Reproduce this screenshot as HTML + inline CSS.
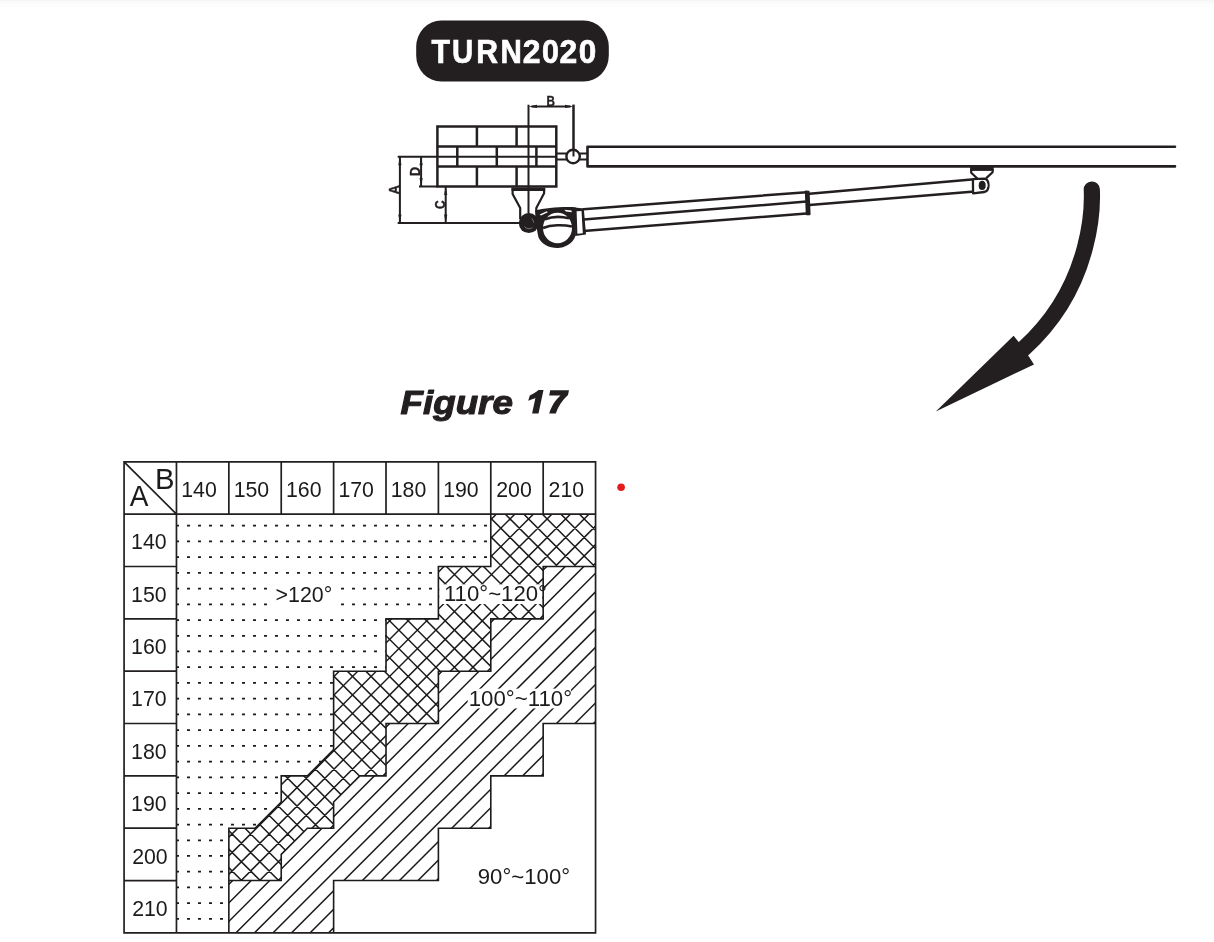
<!DOCTYPE html>
<html><head><meta charset="utf-8"><title>Figure 17</title>
<style>
html,body{margin:0;padding:0;background:#fff;}
body{width:1214px;height:942px;overflow:hidden;font-family:"Liberation Sans",sans-serif;}
svg{display:block;will-change:transform;}
</style></head><body>
<svg width="1214" height="942" viewBox="0 0 1214 942"><defs><clipPath id="cD"><path d="M176.46 514.14 L490.79 514.14 L490.79 566.49 L438.4 566.49 L438.4 618.83 L386.01 618.83 L386.01 671.18 L333.62 671.18 L333.62 749.69 L307.43 775.86 L281.23 775.86 L281.23 802.04 L255.04 828.21 L228.85 828.21 L228.85 932.9 L176.46 932.9 Z"/></clipPath><clipPath id="cX"><path d="M490.79 514.14 L490.79 566.49 L438.4 566.49 L438.4 618.83 L386.01 618.83 L386.01 671.18 L333.62 671.18 L333.62 749.69 L307.43 775.86 L281.23 775.86 L281.23 802.04 L255.04 828.21 L228.85 828.21 L228.85 880.55 L281.23 880.55 L281.23 854.38 L307.43 828.21 L333.62 828.21 L333.62 802.04 L359.82 775.86 L386.01 775.86 L386.01 723.52 L438.4 723.52 L438.4 671.18 L490.79 671.18 L490.79 618.83 L543.17 618.83 L543.17 566.49 L595.56 566.49 L595.56 514.14 Z"/></clipPath><clipPath id="cH"><path d="M595.56 566.49 L543.17 566.49 L543.17 618.83 L490.79 618.83 L490.79 671.18 L438.4 671.18 L438.4 723.52 L386.01 723.52 L386.01 775.86 L359.82 775.86 L333.62 802.04 L333.62 828.21 L307.43 828.21 L281.23 854.38 L281.23 880.55 L228.85 880.55 L228.85 932.9 L333.62 932.9 L333.62 880.55 L438.4 880.55 L438.4 828.21 L490.79 828.21 L490.79 775.86 L543.17 775.86 L543.17 723.52 L595.56 723.52 Z"/></clipPath><linearGradient id="topg" x1="0" y1="0" x2="0" y2="1"><stop offset="0" stop-color="#f4f4f4"/><stop offset="1" stop-color="#fff"/></linearGradient></defs><rect x="0" y="0" width="1214" height="1" fill="#f6f6f6"/><rect x="0" y="1" width="1214" height="1" fill="#f9f9f9"/><rect x="0" y="2" width="1214" height="1" fill="#fafafa"/><rect x="0" y="3" width="1214" height="1" fill="#fcfcfc"/><rect x="0" y="4" width="1214" height="1" fill="#fdfdfd"/><rect x="0" y="5" width="1214" height="1" fill="#fefefe"/><rect x="0" y="6" width="1214" height="1" fill="#fcfcfc"/><rect x="416.2" y="20.6" width="192.6" height="60.9" rx="25" ry="26" fill="#231f20"/><text transform="translate(431.5 62.78) scale(0.8928 1)" font-family="Liberation Sans" font-weight="bold" font-size="33.98" fill="#fff" stroke="#fff" stroke-width="0.7">T</text><text transform="translate(452.03 62.78) scale(0.8651 1)" font-family="Liberation Sans" font-weight="bold" font-size="33.98" fill="#fff" stroke="#fff" stroke-width="0.7">U</text><text transform="translate(476.27 62.78) scale(0.8867 1)" font-family="Liberation Sans" font-weight="bold" font-size="33.98" fill="#fff" stroke="#fff" stroke-width="0.7">R</text><text transform="translate(500.41 62.78) scale(0.8699 1)" font-family="Liberation Sans" font-weight="bold" font-size="33.98" fill="#fff" stroke="#fff" stroke-width="0.7">N</text><text transform="translate(522.81 62.78) scale(0.9377 1)" font-family="Liberation Sans" font-weight="bold" font-size="33.98" fill="#fff" stroke="#fff" stroke-width="0.7">2</text><text transform="translate(542.11 62.78) scale(0.8951 1)" font-family="Liberation Sans" font-weight="bold" font-size="33.98" fill="#fff" stroke="#fff" stroke-width="0.7">0</text><text transform="translate(559.41 62.78) scale(0.9377 1)" font-family="Liberation Sans" font-weight="bold" font-size="33.98" fill="#fff" stroke="#fff" stroke-width="0.7">2</text><text transform="translate(578.67 62.78) scale(0.9252 1)" font-family="Liberation Sans" font-weight="bold" font-size="33.98" fill="#fff" stroke="#fff" stroke-width="0.7">0</text><g fill="none" stroke="#231f20" stroke-width="2.5"><path d="M437.4 126.6H556.3V186.4H437.4Z"/><path d="M437.4 146.4H556.3M437.4 166.4H556.3M476.9 126.6V146.4M516.6 126.6V146.4M476.9 166.4V186.4M516.6 166.4V186.4M457.3 146.4V166.4M496.8 146.4V166.4M536.4 146.4V166.4"/></g><g fill="none" stroke="#231f20" stroke-width="2"><path d="M397.7 156.8H556.3M419 186.4H437.4M397.7 223.1H520"/><path d="M399.9 157V223M421.1 157V186M445.7 187V223M528.5 104.7V214M573.5 104.7V156.5M531.5 106.4H570.5"/></g><path d="M399.9 156.8L401.5 165.3L398.3 165.3ZM399.9 223.1L398.3 214.6L401.5 214.6ZM421.1 156.8L422.7 165.3L419.5 165.3ZM421.1 186.4L419.5 177.9L422.7 177.9ZM445.7 186.4L447.3 194.9L444.1 194.9ZM445.7 223.1L444.1 214.6L447.3 214.6ZM528.5 106.4L537 104.8L537 108ZM573.5 106.4L565 108L565 104.8Z" fill="#231f20"/><g font-family="Liberation Sans" font-weight="bold" font-size="14.5" fill="#231f20" stroke="#231f20" stroke-width="0.4"><text x="546.6" y="105.6" textLength="8.4" lengthAdjust="spacingAndGlyphs">B</text><text transform="translate(399.2 194.2) rotate(-90)" textLength="9" lengthAdjust="spacingAndGlyphs">A</text><text transform="translate(420 176) rotate(-90)" textLength="9" lengthAdjust="spacingAndGlyphs">D</text><text transform="translate(444.7 209) rotate(-90)" textLength="8.6" lengthAdjust="spacingAndGlyphs">C</text></g><path d="M556.3 153.6H567M556.3 159.6H567M579.4 153.6H587.5M579.4 159.6H587.5" fill="none" stroke="#231f20" stroke-width="2"/><circle cx="573.1" cy="156.5" r="6.7" fill="#fff" stroke="#231f20" stroke-width="2.4"/><path d="M573.5 104.7V156.5" fill="none" stroke="#231f20" stroke-width="2"/><path d="M587.5 146.8H1175M587.5 166.4H1175M587.5 146.8V166.4" fill="none" stroke="#231f20" stroke-width="2.6" stroke-linecap="round"/><path d="M511.6 187.4H545.2V190.9H511.6Z" fill="#231f20"/><path d="M512.6 188V194L520.2 208V219M544.1 188V193.2L536.3 208V212" fill="none" stroke="#231f20" stroke-width="2.2" stroke-linejoin="round"/><g fill="none" stroke="#231f20" stroke-width="2.5" stroke-linecap="round"><path d="M583.5 209.3L806.5 192.2M583.5 219.6L806.5 201.6M583.5 231.1L806.5 213.5"/><path d="M809.4 193.7L971.6 179.6M809.4 205.1L971.6 191.8"/></g><path d="M805.6 191.3L808.8 191.5L809.8 214.4L806.6 214.5Z" fill="#231f20" stroke="#231f20" stroke-width="1.6" stroke-linejoin="round"/><circle cx="528.8" cy="223.1" r="10" fill="#231f20"/><path d="M524.6 226.6A5.4 5.4 0 0 0 532.4 227.4M531.6 218.4A5.4 5.4 0 0 1 533.6 222.6" fill="none" stroke="#fff" stroke-width="0.8" opacity="0.45"/><path d="M535 210.8C545 207.6 563 206.6 575.5 207.3L575.5 235.8C573 243.5 565 248 557.2 248C549 248 541.5 244 538.5 237.5C536.5 229 535.5 218 535 210.8Z" fill="#231f20"/><ellipse cx="557.5" cy="228" rx="14.5" ry="15.2" fill="#fff"/><path d="M545 219.3C552 216.5 562 216.5 569 218.3M543 228C551 224.8 563 224.5 572 226.6" fill="none" stroke="#231f20" stroke-width="2.6"/><path d="M539.6 214.6L546.8 211.2L547.8 212.2L541 215.5Z M564.3 209.8L571.5 210.6L571.8 212.2L566 211.6Z" fill="#fff"/><path d="M574.8 207.6L583.8 208.4L586 234.5L575.2 235.9Z" fill="#231f20"/><path d="M576.6 211.3L581.5 211L582.8 233.2L577.4 233.8Z" fill="#fff"/><path d="M970.1 166.4H993.7V170.9H970.1Z" fill="#231f20"/><path d="M971.2 169V172.7L977.6 178.8M992.6 169V172.2L986 178.4" fill="none" stroke="#231f20" stroke-width="2.2" stroke-linejoin="round"/><path d="M972.9 179.2L984.2 178.7C990 179.5 990 191.2 984.2 192L973.1 193.3Z" fill="#fff" stroke="#231f20" stroke-width="2.3" stroke-linejoin="round"/><ellipse cx="982.2" cy="185.4" rx="3.5" ry="4.6" fill="#231f20"/><path d="M984.6 181.6A4.1 4.1 0 0 1 984.6 189.2" fill="none" stroke="#fff" stroke-width="0.9"/><path d="M1091.8 189.5C1092 195 1097 282.5 1023.5 348.7" fill="none" stroke="#231f20" stroke-width="16.2" stroke-linecap="round"/><path d="M935.8 411.5L1013.6 335.7L1018.7 342.1L1028.2 355.4L1034 364.4Z" fill="#231f20"/><g fill="#231f20" stroke="#231f20" stroke-width="1.1" stroke-linejoin="round"><text x="400.5" y="413.95" font-family="Liberation Sans" font-weight="bold" font-style="italic" font-size="32.8" textLength="112.37" lengthAdjust="spacingAndGlyphs">Figure</text></g><path d="M532.1 413.6L538.5 413.6L543.5 390L538.6 390C535.6 392.4 532.2 394.2 529.8 395.4L528.2 400.8C531 399.6 533.4 398.8 535.4 397.9Z" fill="#231f20"/><path d="M550.2 390.2L569 390.2L568 395C562.3 400.2 558.2 406.2 555.8 413.6L549.2 413.6C551.6 405.6 555.6 399.8 560.5 395.6L549.2 395.6Z" fill="#231f20"/><g></g><g clip-path="url(#cD)"><path d="M165 524.78h3v1.75h-3zM176 524.78h3v1.75h-3zM187 524.78h3v1.75h-3zM198 524.78h3v1.75h-3zM209 524.78h3v1.75h-3zM220 524.78h3v1.75h-3zM231 524.78h3v1.75h-3zM242 524.78h3v1.75h-3zM253 524.78h3v1.75h-3zM264 524.78h3v1.75h-3zM275 524.78h3v1.75h-3zM286 524.78h3v1.75h-3zM297 524.78h3v1.75h-3zM308 524.78h3v1.75h-3zM319 524.78h3v1.75h-3zM330 524.78h3v1.75h-3zM341 524.78h3v1.75h-3zM352 524.78h3v1.75h-3zM363 524.78h3v1.75h-3zM374 524.78h3v1.75h-3zM385 524.78h3v1.75h-3zM396 524.78h3v1.75h-3zM407 524.78h3v1.75h-3zM418 524.78h3v1.75h-3zM429 524.78h3v1.75h-3zM440 524.78h3v1.75h-3zM451 524.78h3v1.75h-3zM462 524.78h3v1.75h-3zM473 524.78h3v1.75h-3zM484 524.78h3v1.75h-3zM165 540.51h3v1.75h-3zM176 540.51h3v1.75h-3zM187 540.51h3v1.75h-3zM198 540.51h3v1.75h-3zM209 540.51h3v1.75h-3zM220 540.51h3v1.75h-3zM231 540.51h3v1.75h-3zM242 540.51h3v1.75h-3zM253 540.51h3v1.75h-3zM264 540.51h3v1.75h-3zM275 540.51h3v1.75h-3zM286 540.51h3v1.75h-3zM297 540.51h3v1.75h-3zM308 540.51h3v1.75h-3zM319 540.51h3v1.75h-3zM330 540.51h3v1.75h-3zM341 540.51h3v1.75h-3zM352 540.51h3v1.75h-3zM363 540.51h3v1.75h-3zM374 540.51h3v1.75h-3zM385 540.51h3v1.75h-3zM396 540.51h3v1.75h-3zM407 540.51h3v1.75h-3zM418 540.51h3v1.75h-3zM429 540.51h3v1.75h-3zM440 540.51h3v1.75h-3zM451 540.51h3v1.75h-3zM462 540.51h3v1.75h-3zM473 540.51h3v1.75h-3zM484 540.51h3v1.75h-3zM165 556.24h3v1.75h-3zM176 556.24h3v1.75h-3zM187 556.24h3v1.75h-3zM198 556.24h3v1.75h-3zM209 556.24h3v1.75h-3zM220 556.24h3v1.75h-3zM231 556.24h3v1.75h-3zM242 556.24h3v1.75h-3zM253 556.24h3v1.75h-3zM264 556.24h3v1.75h-3zM275 556.24h3v1.75h-3zM286 556.24h3v1.75h-3zM297 556.24h3v1.75h-3zM308 556.24h3v1.75h-3zM319 556.24h3v1.75h-3zM330 556.24h3v1.75h-3zM341 556.24h3v1.75h-3zM352 556.24h3v1.75h-3zM363 556.24h3v1.75h-3zM374 556.24h3v1.75h-3zM385 556.24h3v1.75h-3zM396 556.24h3v1.75h-3zM407 556.24h3v1.75h-3zM418 556.24h3v1.75h-3zM429 556.24h3v1.75h-3zM440 556.24h3v1.75h-3zM451 556.24h3v1.75h-3zM462 556.24h3v1.75h-3zM473 556.24h3v1.75h-3zM484 556.24h3v1.75h-3zM165 571.97h3v1.75h-3zM176 571.97h3v1.75h-3zM187 571.97h3v1.75h-3zM198 571.97h3v1.75h-3zM209 571.97h3v1.75h-3zM220 571.97h3v1.75h-3zM231 571.97h3v1.75h-3zM242 571.97h3v1.75h-3zM253 571.97h3v1.75h-3zM264 571.97h3v1.75h-3zM275 571.97h3v1.75h-3zM286 571.97h3v1.75h-3zM297 571.97h3v1.75h-3zM308 571.97h3v1.75h-3zM319 571.97h3v1.75h-3zM330 571.97h3v1.75h-3zM341 571.97h3v1.75h-3zM352 571.97h3v1.75h-3zM363 571.97h3v1.75h-3zM374 571.97h3v1.75h-3zM385 571.97h3v1.75h-3zM396 571.97h3v1.75h-3zM407 571.97h3v1.75h-3zM418 571.97h3v1.75h-3zM429 571.97h3v1.75h-3zM440 571.97h3v1.75h-3zM451 571.97h3v1.75h-3zM462 571.97h3v1.75h-3zM473 571.97h3v1.75h-3zM484 571.97h3v1.75h-3zM165 587.7h3v1.75h-3zM176 587.7h3v1.75h-3zM187 587.7h3v1.75h-3zM198 587.7h3v1.75h-3zM209 587.7h3v1.75h-3zM220 587.7h3v1.75h-3zM231 587.7h3v1.75h-3zM242 587.7h3v1.75h-3zM253 587.7h3v1.75h-3zM264 587.7h3v1.75h-3zM275 587.7h3v1.75h-3zM286 587.7h3v1.75h-3zM297 587.7h3v1.75h-3zM308 587.7h3v1.75h-3zM319 587.7h3v1.75h-3zM330 587.7h3v1.75h-3zM341 587.7h3v1.75h-3zM352 587.7h3v1.75h-3zM363 587.7h3v1.75h-3zM374 587.7h3v1.75h-3zM385 587.7h3v1.75h-3zM396 587.7h3v1.75h-3zM407 587.7h3v1.75h-3zM418 587.7h3v1.75h-3zM429 587.7h3v1.75h-3zM440 587.7h3v1.75h-3zM451 587.7h3v1.75h-3zM462 587.7h3v1.75h-3zM473 587.7h3v1.75h-3zM484 587.7h3v1.75h-3zM165 603.43h3v1.75h-3zM176 603.43h3v1.75h-3zM187 603.43h3v1.75h-3zM198 603.43h3v1.75h-3zM209 603.43h3v1.75h-3zM220 603.43h3v1.75h-3zM231 603.43h3v1.75h-3zM242 603.43h3v1.75h-3zM253 603.43h3v1.75h-3zM264 603.43h3v1.75h-3zM275 603.43h3v1.75h-3zM286 603.43h3v1.75h-3zM297 603.43h3v1.75h-3zM308 603.43h3v1.75h-3zM319 603.43h3v1.75h-3zM330 603.43h3v1.75h-3zM341 603.43h3v1.75h-3zM352 603.43h3v1.75h-3zM363 603.43h3v1.75h-3zM374 603.43h3v1.75h-3zM385 603.43h3v1.75h-3zM396 603.43h3v1.75h-3zM407 603.43h3v1.75h-3zM418 603.43h3v1.75h-3zM429 603.43h3v1.75h-3zM440 603.43h3v1.75h-3zM451 603.43h3v1.75h-3zM462 603.43h3v1.75h-3zM473 603.43h3v1.75h-3zM484 603.43h3v1.75h-3zM165 619.16h3v1.75h-3zM176 619.16h3v1.75h-3zM187 619.16h3v1.75h-3zM198 619.16h3v1.75h-3zM209 619.16h3v1.75h-3zM220 619.16h3v1.75h-3zM231 619.16h3v1.75h-3zM242 619.16h3v1.75h-3zM253 619.16h3v1.75h-3zM264 619.16h3v1.75h-3zM275 619.16h3v1.75h-3zM286 619.16h3v1.75h-3zM297 619.16h3v1.75h-3zM308 619.16h3v1.75h-3zM319 619.16h3v1.75h-3zM330 619.16h3v1.75h-3zM341 619.16h3v1.75h-3zM352 619.16h3v1.75h-3zM363 619.16h3v1.75h-3zM374 619.16h3v1.75h-3zM385 619.16h3v1.75h-3zM396 619.16h3v1.75h-3zM407 619.16h3v1.75h-3zM418 619.16h3v1.75h-3zM429 619.16h3v1.75h-3zM440 619.16h3v1.75h-3zM451 619.16h3v1.75h-3zM462 619.16h3v1.75h-3zM473 619.16h3v1.75h-3zM484 619.16h3v1.75h-3zM165 634.89h3v1.75h-3zM176 634.89h3v1.75h-3zM187 634.89h3v1.75h-3zM198 634.89h3v1.75h-3zM209 634.89h3v1.75h-3zM220 634.89h3v1.75h-3zM231 634.89h3v1.75h-3zM242 634.89h3v1.75h-3zM253 634.89h3v1.75h-3zM264 634.89h3v1.75h-3zM275 634.89h3v1.75h-3zM286 634.89h3v1.75h-3zM297 634.89h3v1.75h-3zM308 634.89h3v1.75h-3zM319 634.89h3v1.75h-3zM330 634.89h3v1.75h-3zM341 634.89h3v1.75h-3zM352 634.89h3v1.75h-3zM363 634.89h3v1.75h-3zM374 634.89h3v1.75h-3zM385 634.89h3v1.75h-3zM396 634.89h3v1.75h-3zM407 634.89h3v1.75h-3zM418 634.89h3v1.75h-3zM429 634.89h3v1.75h-3zM440 634.89h3v1.75h-3zM451 634.89h3v1.75h-3zM462 634.89h3v1.75h-3zM473 634.89h3v1.75h-3zM484 634.89h3v1.75h-3zM165 650.62h3v1.75h-3zM176 650.62h3v1.75h-3zM187 650.62h3v1.75h-3zM198 650.62h3v1.75h-3zM209 650.62h3v1.75h-3zM220 650.62h3v1.75h-3zM231 650.62h3v1.75h-3zM242 650.62h3v1.75h-3zM253 650.62h3v1.75h-3zM264 650.62h3v1.75h-3zM275 650.62h3v1.75h-3zM286 650.62h3v1.75h-3zM297 650.62h3v1.75h-3zM308 650.62h3v1.75h-3zM319 650.62h3v1.75h-3zM330 650.62h3v1.75h-3zM341 650.62h3v1.75h-3zM352 650.62h3v1.75h-3zM363 650.62h3v1.75h-3zM374 650.62h3v1.75h-3zM385 650.62h3v1.75h-3zM396 650.62h3v1.75h-3zM407 650.62h3v1.75h-3zM418 650.62h3v1.75h-3zM429 650.62h3v1.75h-3zM440 650.62h3v1.75h-3zM451 650.62h3v1.75h-3zM462 650.62h3v1.75h-3zM473 650.62h3v1.75h-3zM484 650.62h3v1.75h-3zM165 666.35h3v1.75h-3zM176 666.35h3v1.75h-3zM187 666.35h3v1.75h-3zM198 666.35h3v1.75h-3zM209 666.35h3v1.75h-3zM220 666.35h3v1.75h-3zM231 666.35h3v1.75h-3zM242 666.35h3v1.75h-3zM253 666.35h3v1.75h-3zM264 666.35h3v1.75h-3zM275 666.35h3v1.75h-3zM286 666.35h3v1.75h-3zM297 666.35h3v1.75h-3zM308 666.35h3v1.75h-3zM319 666.35h3v1.75h-3zM330 666.35h3v1.75h-3zM341 666.35h3v1.75h-3zM352 666.35h3v1.75h-3zM363 666.35h3v1.75h-3zM374 666.35h3v1.75h-3zM385 666.35h3v1.75h-3zM396 666.35h3v1.75h-3zM407 666.35h3v1.75h-3zM418 666.35h3v1.75h-3zM429 666.35h3v1.75h-3zM440 666.35h3v1.75h-3zM451 666.35h3v1.75h-3zM462 666.35h3v1.75h-3zM473 666.35h3v1.75h-3zM484 666.35h3v1.75h-3zM165 682.08h3v1.75h-3zM176 682.08h3v1.75h-3zM187 682.08h3v1.75h-3zM198 682.08h3v1.75h-3zM209 682.08h3v1.75h-3zM220 682.08h3v1.75h-3zM231 682.08h3v1.75h-3zM242 682.08h3v1.75h-3zM253 682.08h3v1.75h-3zM264 682.08h3v1.75h-3zM275 682.08h3v1.75h-3zM286 682.08h3v1.75h-3zM297 682.08h3v1.75h-3zM308 682.08h3v1.75h-3zM319 682.08h3v1.75h-3zM330 682.08h3v1.75h-3zM341 682.08h3v1.75h-3zM352 682.08h3v1.75h-3zM363 682.08h3v1.75h-3zM374 682.08h3v1.75h-3zM385 682.08h3v1.75h-3zM396 682.08h3v1.75h-3zM407 682.08h3v1.75h-3zM418 682.08h3v1.75h-3zM429 682.08h3v1.75h-3zM440 682.08h3v1.75h-3zM451 682.08h3v1.75h-3zM462 682.08h3v1.75h-3zM473 682.08h3v1.75h-3zM484 682.08h3v1.75h-3zM165 697.81h3v1.75h-3zM176 697.81h3v1.75h-3zM187 697.81h3v1.75h-3zM198 697.81h3v1.75h-3zM209 697.81h3v1.75h-3zM220 697.81h3v1.75h-3zM231 697.81h3v1.75h-3zM242 697.81h3v1.75h-3zM253 697.81h3v1.75h-3zM264 697.81h3v1.75h-3zM275 697.81h3v1.75h-3zM286 697.81h3v1.75h-3zM297 697.81h3v1.75h-3zM308 697.81h3v1.75h-3zM319 697.81h3v1.75h-3zM330 697.81h3v1.75h-3zM341 697.81h3v1.75h-3zM352 697.81h3v1.75h-3zM363 697.81h3v1.75h-3zM374 697.81h3v1.75h-3zM385 697.81h3v1.75h-3zM396 697.81h3v1.75h-3zM407 697.81h3v1.75h-3zM418 697.81h3v1.75h-3zM429 697.81h3v1.75h-3zM440 697.81h3v1.75h-3zM451 697.81h3v1.75h-3zM462 697.81h3v1.75h-3zM473 697.81h3v1.75h-3zM484 697.81h3v1.75h-3zM165 713.54h3v1.75h-3zM176 713.54h3v1.75h-3zM187 713.54h3v1.75h-3zM198 713.54h3v1.75h-3zM209 713.54h3v1.75h-3zM220 713.54h3v1.75h-3zM231 713.54h3v1.75h-3zM242 713.54h3v1.75h-3zM253 713.54h3v1.75h-3zM264 713.54h3v1.75h-3zM275 713.54h3v1.75h-3zM286 713.54h3v1.75h-3zM297 713.54h3v1.75h-3zM308 713.54h3v1.75h-3zM319 713.54h3v1.75h-3zM330 713.54h3v1.75h-3zM341 713.54h3v1.75h-3zM352 713.54h3v1.75h-3zM363 713.54h3v1.75h-3zM374 713.54h3v1.75h-3zM385 713.54h3v1.75h-3zM396 713.54h3v1.75h-3zM407 713.54h3v1.75h-3zM418 713.54h3v1.75h-3zM429 713.54h3v1.75h-3zM440 713.54h3v1.75h-3zM451 713.54h3v1.75h-3zM462 713.54h3v1.75h-3zM473 713.54h3v1.75h-3zM484 713.54h3v1.75h-3zM165 729.27h3v1.75h-3zM176 729.27h3v1.75h-3zM187 729.27h3v1.75h-3zM198 729.27h3v1.75h-3zM209 729.27h3v1.75h-3zM220 729.27h3v1.75h-3zM231 729.27h3v1.75h-3zM242 729.27h3v1.75h-3zM253 729.27h3v1.75h-3zM264 729.27h3v1.75h-3zM275 729.27h3v1.75h-3zM286 729.27h3v1.75h-3zM297 729.27h3v1.75h-3zM308 729.27h3v1.75h-3zM319 729.27h3v1.75h-3zM330 729.27h3v1.75h-3zM341 729.27h3v1.75h-3zM352 729.27h3v1.75h-3zM363 729.27h3v1.75h-3zM374 729.27h3v1.75h-3zM385 729.27h3v1.75h-3zM396 729.27h3v1.75h-3zM407 729.27h3v1.75h-3zM418 729.27h3v1.75h-3zM429 729.27h3v1.75h-3zM440 729.27h3v1.75h-3zM451 729.27h3v1.75h-3zM462 729.27h3v1.75h-3zM473 729.27h3v1.75h-3zM484 729.27h3v1.75h-3zM165 745h3v1.75h-3zM176 745h3v1.75h-3zM187 745h3v1.75h-3zM198 745h3v1.75h-3zM209 745h3v1.75h-3zM220 745h3v1.75h-3zM231 745h3v1.75h-3zM242 745h3v1.75h-3zM253 745h3v1.75h-3zM264 745h3v1.75h-3zM275 745h3v1.75h-3zM286 745h3v1.75h-3zM297 745h3v1.75h-3zM308 745h3v1.75h-3zM319 745h3v1.75h-3zM330 745h3v1.75h-3zM341 745h3v1.75h-3zM352 745h3v1.75h-3zM363 745h3v1.75h-3zM374 745h3v1.75h-3zM385 745h3v1.75h-3zM396 745h3v1.75h-3zM407 745h3v1.75h-3zM418 745h3v1.75h-3zM429 745h3v1.75h-3zM440 745h3v1.75h-3zM451 745h3v1.75h-3zM462 745h3v1.75h-3zM473 745h3v1.75h-3zM484 745h3v1.75h-3zM165 760.73h3v1.75h-3zM176 760.73h3v1.75h-3zM187 760.73h3v1.75h-3zM198 760.73h3v1.75h-3zM209 760.73h3v1.75h-3zM220 760.73h3v1.75h-3zM231 760.73h3v1.75h-3zM242 760.73h3v1.75h-3zM253 760.73h3v1.75h-3zM264 760.73h3v1.75h-3zM275 760.73h3v1.75h-3zM286 760.73h3v1.75h-3zM297 760.73h3v1.75h-3zM308 760.73h3v1.75h-3zM319 760.73h3v1.75h-3zM330 760.73h3v1.75h-3zM341 760.73h3v1.75h-3zM352 760.73h3v1.75h-3zM363 760.73h3v1.75h-3zM374 760.73h3v1.75h-3zM385 760.73h3v1.75h-3zM396 760.73h3v1.75h-3zM407 760.73h3v1.75h-3zM418 760.73h3v1.75h-3zM429 760.73h3v1.75h-3zM440 760.73h3v1.75h-3zM451 760.73h3v1.75h-3zM462 760.73h3v1.75h-3zM473 760.73h3v1.75h-3zM484 760.73h3v1.75h-3zM165 776.46h3v1.75h-3zM176 776.46h3v1.75h-3zM187 776.46h3v1.75h-3zM198 776.46h3v1.75h-3zM209 776.46h3v1.75h-3zM220 776.46h3v1.75h-3zM231 776.46h3v1.75h-3zM242 776.46h3v1.75h-3zM253 776.46h3v1.75h-3zM264 776.46h3v1.75h-3zM275 776.46h3v1.75h-3zM286 776.46h3v1.75h-3zM297 776.46h3v1.75h-3zM308 776.46h3v1.75h-3zM319 776.46h3v1.75h-3zM330 776.46h3v1.75h-3zM341 776.46h3v1.75h-3zM352 776.46h3v1.75h-3zM363 776.46h3v1.75h-3zM374 776.46h3v1.75h-3zM385 776.46h3v1.75h-3zM396 776.46h3v1.75h-3zM407 776.46h3v1.75h-3zM418 776.46h3v1.75h-3zM429 776.46h3v1.75h-3zM440 776.46h3v1.75h-3zM451 776.46h3v1.75h-3zM462 776.46h3v1.75h-3zM473 776.46h3v1.75h-3zM484 776.46h3v1.75h-3zM165 792.19h3v1.75h-3zM176 792.19h3v1.75h-3zM187 792.19h3v1.75h-3zM198 792.19h3v1.75h-3zM209 792.19h3v1.75h-3zM220 792.19h3v1.75h-3zM231 792.19h3v1.75h-3zM242 792.19h3v1.75h-3zM253 792.19h3v1.75h-3zM264 792.19h3v1.75h-3zM275 792.19h3v1.75h-3zM286 792.19h3v1.75h-3zM297 792.19h3v1.75h-3zM308 792.19h3v1.75h-3zM319 792.19h3v1.75h-3zM330 792.19h3v1.75h-3zM341 792.19h3v1.75h-3zM352 792.19h3v1.75h-3zM363 792.19h3v1.75h-3zM374 792.19h3v1.75h-3zM385 792.19h3v1.75h-3zM396 792.19h3v1.75h-3zM407 792.19h3v1.75h-3zM418 792.19h3v1.75h-3zM429 792.19h3v1.75h-3zM440 792.19h3v1.75h-3zM451 792.19h3v1.75h-3zM462 792.19h3v1.75h-3zM473 792.19h3v1.75h-3zM484 792.19h3v1.75h-3zM165 807.92h3v1.75h-3zM176 807.92h3v1.75h-3zM187 807.92h3v1.75h-3zM198 807.92h3v1.75h-3zM209 807.92h3v1.75h-3zM220 807.92h3v1.75h-3zM231 807.92h3v1.75h-3zM242 807.92h3v1.75h-3zM253 807.92h3v1.75h-3zM264 807.92h3v1.75h-3zM275 807.92h3v1.75h-3zM286 807.92h3v1.75h-3zM297 807.92h3v1.75h-3zM308 807.92h3v1.75h-3zM319 807.92h3v1.75h-3zM330 807.92h3v1.75h-3zM341 807.92h3v1.75h-3zM352 807.92h3v1.75h-3zM363 807.92h3v1.75h-3zM374 807.92h3v1.75h-3zM385 807.92h3v1.75h-3zM396 807.92h3v1.75h-3zM407 807.92h3v1.75h-3zM418 807.92h3v1.75h-3zM429 807.92h3v1.75h-3zM440 807.92h3v1.75h-3zM451 807.92h3v1.75h-3zM462 807.92h3v1.75h-3zM473 807.92h3v1.75h-3zM484 807.92h3v1.75h-3zM165 823.65h3v1.75h-3zM176 823.65h3v1.75h-3zM187 823.65h3v1.75h-3zM198 823.65h3v1.75h-3zM209 823.65h3v1.75h-3zM220 823.65h3v1.75h-3zM231 823.65h3v1.75h-3zM242 823.65h3v1.75h-3zM253 823.65h3v1.75h-3zM264 823.65h3v1.75h-3zM275 823.65h3v1.75h-3zM286 823.65h3v1.75h-3zM297 823.65h3v1.75h-3zM308 823.65h3v1.75h-3zM319 823.65h3v1.75h-3zM330 823.65h3v1.75h-3zM341 823.65h3v1.75h-3zM352 823.65h3v1.75h-3zM363 823.65h3v1.75h-3zM374 823.65h3v1.75h-3zM385 823.65h3v1.75h-3zM396 823.65h3v1.75h-3zM407 823.65h3v1.75h-3zM418 823.65h3v1.75h-3zM429 823.65h3v1.75h-3zM440 823.65h3v1.75h-3zM451 823.65h3v1.75h-3zM462 823.65h3v1.75h-3zM473 823.65h3v1.75h-3zM484 823.65h3v1.75h-3zM165 839.38h3v1.75h-3zM176 839.38h3v1.75h-3zM187 839.38h3v1.75h-3zM198 839.38h3v1.75h-3zM209 839.38h3v1.75h-3zM220 839.38h3v1.75h-3zM231 839.38h3v1.75h-3zM242 839.38h3v1.75h-3zM253 839.38h3v1.75h-3zM264 839.38h3v1.75h-3zM275 839.38h3v1.75h-3zM286 839.38h3v1.75h-3zM297 839.38h3v1.75h-3zM308 839.38h3v1.75h-3zM319 839.38h3v1.75h-3zM330 839.38h3v1.75h-3zM341 839.38h3v1.75h-3zM352 839.38h3v1.75h-3zM363 839.38h3v1.75h-3zM374 839.38h3v1.75h-3zM385 839.38h3v1.75h-3zM396 839.38h3v1.75h-3zM407 839.38h3v1.75h-3zM418 839.38h3v1.75h-3zM429 839.38h3v1.75h-3zM440 839.38h3v1.75h-3zM451 839.38h3v1.75h-3zM462 839.38h3v1.75h-3zM473 839.38h3v1.75h-3zM484 839.38h3v1.75h-3zM165 855.11h3v1.75h-3zM176 855.11h3v1.75h-3zM187 855.11h3v1.75h-3zM198 855.11h3v1.75h-3zM209 855.11h3v1.75h-3zM220 855.11h3v1.75h-3zM231 855.11h3v1.75h-3zM242 855.11h3v1.75h-3zM253 855.11h3v1.75h-3zM264 855.11h3v1.75h-3zM275 855.11h3v1.75h-3zM286 855.11h3v1.75h-3zM297 855.11h3v1.75h-3zM308 855.11h3v1.75h-3zM319 855.11h3v1.75h-3zM330 855.11h3v1.75h-3zM341 855.11h3v1.75h-3zM352 855.11h3v1.75h-3zM363 855.11h3v1.75h-3zM374 855.11h3v1.75h-3zM385 855.11h3v1.75h-3zM396 855.11h3v1.75h-3zM407 855.11h3v1.75h-3zM418 855.11h3v1.75h-3zM429 855.11h3v1.75h-3zM440 855.11h3v1.75h-3zM451 855.11h3v1.75h-3zM462 855.11h3v1.75h-3zM473 855.11h3v1.75h-3zM484 855.11h3v1.75h-3zM165 870.84h3v1.75h-3zM176 870.84h3v1.75h-3zM187 870.84h3v1.75h-3zM198 870.84h3v1.75h-3zM209 870.84h3v1.75h-3zM220 870.84h3v1.75h-3zM231 870.84h3v1.75h-3zM242 870.84h3v1.75h-3zM253 870.84h3v1.75h-3zM264 870.84h3v1.75h-3zM275 870.84h3v1.75h-3zM286 870.84h3v1.75h-3zM297 870.84h3v1.75h-3zM308 870.84h3v1.75h-3zM319 870.84h3v1.75h-3zM330 870.84h3v1.75h-3zM341 870.84h3v1.75h-3zM352 870.84h3v1.75h-3zM363 870.84h3v1.75h-3zM374 870.84h3v1.75h-3zM385 870.84h3v1.75h-3zM396 870.84h3v1.75h-3zM407 870.84h3v1.75h-3zM418 870.84h3v1.75h-3zM429 870.84h3v1.75h-3zM440 870.84h3v1.75h-3zM451 870.84h3v1.75h-3zM462 870.84h3v1.75h-3zM473 870.84h3v1.75h-3zM484 870.84h3v1.75h-3zM165 886.57h3v1.75h-3zM176 886.57h3v1.75h-3zM187 886.57h3v1.75h-3zM198 886.57h3v1.75h-3zM209 886.57h3v1.75h-3zM220 886.57h3v1.75h-3zM231 886.57h3v1.75h-3zM242 886.57h3v1.75h-3zM253 886.57h3v1.75h-3zM264 886.57h3v1.75h-3zM275 886.57h3v1.75h-3zM286 886.57h3v1.75h-3zM297 886.57h3v1.75h-3zM308 886.57h3v1.75h-3zM319 886.57h3v1.75h-3zM330 886.57h3v1.75h-3zM341 886.57h3v1.75h-3zM352 886.57h3v1.75h-3zM363 886.57h3v1.75h-3zM374 886.57h3v1.75h-3zM385 886.57h3v1.75h-3zM396 886.57h3v1.75h-3zM407 886.57h3v1.75h-3zM418 886.57h3v1.75h-3zM429 886.57h3v1.75h-3zM440 886.57h3v1.75h-3zM451 886.57h3v1.75h-3zM462 886.57h3v1.75h-3zM473 886.57h3v1.75h-3zM484 886.57h3v1.75h-3zM165 902.3h3v1.75h-3zM176 902.3h3v1.75h-3zM187 902.3h3v1.75h-3zM198 902.3h3v1.75h-3zM209 902.3h3v1.75h-3zM220 902.3h3v1.75h-3zM231 902.3h3v1.75h-3zM242 902.3h3v1.75h-3zM253 902.3h3v1.75h-3zM264 902.3h3v1.75h-3zM275 902.3h3v1.75h-3zM286 902.3h3v1.75h-3zM297 902.3h3v1.75h-3zM308 902.3h3v1.75h-3zM319 902.3h3v1.75h-3zM330 902.3h3v1.75h-3zM341 902.3h3v1.75h-3zM352 902.3h3v1.75h-3zM363 902.3h3v1.75h-3zM374 902.3h3v1.75h-3zM385 902.3h3v1.75h-3zM396 902.3h3v1.75h-3zM407 902.3h3v1.75h-3zM418 902.3h3v1.75h-3zM429 902.3h3v1.75h-3zM440 902.3h3v1.75h-3zM451 902.3h3v1.75h-3zM462 902.3h3v1.75h-3zM473 902.3h3v1.75h-3zM484 902.3h3v1.75h-3zM165 918.03h3v1.75h-3zM176 918.03h3v1.75h-3zM187 918.03h3v1.75h-3zM198 918.03h3v1.75h-3zM209 918.03h3v1.75h-3zM220 918.03h3v1.75h-3zM231 918.03h3v1.75h-3zM242 918.03h3v1.75h-3zM253 918.03h3v1.75h-3zM264 918.03h3v1.75h-3zM275 918.03h3v1.75h-3zM286 918.03h3v1.75h-3zM297 918.03h3v1.75h-3zM308 918.03h3v1.75h-3zM319 918.03h3v1.75h-3zM330 918.03h3v1.75h-3zM341 918.03h3v1.75h-3zM352 918.03h3v1.75h-3zM363 918.03h3v1.75h-3zM374 918.03h3v1.75h-3zM385 918.03h3v1.75h-3zM396 918.03h3v1.75h-3zM407 918.03h3v1.75h-3zM418 918.03h3v1.75h-3zM429 918.03h3v1.75h-3zM440 918.03h3v1.75h-3zM451 918.03h3v1.75h-3zM462 918.03h3v1.75h-3zM473 918.03h3v1.75h-3zM484 918.03h3v1.75h-3z" fill="#1c1a1b"/></g><g clip-path="url(#cX)"><path d="M171.46 505.47L600.56 76.37M171.46 524L600.56 94.9M171.46 542.53L600.56 113.43M171.46 561.06L600.56 131.96M171.46 579.59L600.56 150.49M171.46 598.12L600.56 169.02M171.46 616.65L600.56 187.55M171.46 635.18L600.56 206.08M171.46 653.71L600.56 224.61M171.46 672.24L600.56 243.14M171.46 690.77L600.56 261.67M171.46 709.3L600.56 280.2M171.46 727.83L600.56 298.73M171.46 746.36L600.56 317.26M171.46 764.89L600.56 335.79M171.46 783.42L600.56 354.32M171.46 801.95L600.56 372.85M171.46 820.48L600.56 391.38M171.46 839.01L600.56 409.91M171.46 857.54L600.56 428.44M171.46 876.07L600.56 446.97M171.46 894.6L600.56 465.5M171.46 913.13L600.56 484.03M171.46 931.66L600.56 502.56M171.46 950.19L600.56 521.09M171.46 968.72L600.56 539.62M171.46 987.25L600.56 558.15M171.46 1005.78L600.56 576.68M171.46 1024.31L600.56 595.21M171.46 1042.84L600.56 613.74M171.46 1061.37L600.56 632.27M171.46 1079.9L600.56 650.8M171.46 1098.43L600.56 669.33M171.46 1116.96L600.56 687.86M171.46 1135.49L600.56 706.39M171.46 1154.02L600.56 724.92M171.46 1172.55L600.56 743.45M171.46 1191.08L600.56 761.98M171.46 1209.61L600.56 780.51M171.46 1228.14L600.56 799.04M171.46 1246.67L600.56 817.57M171.46 1265.2L600.56 836.1M171.46 1283.73L600.56 854.63M171.46 1302.26L600.56 873.16M171.46 1320.79L600.56 891.69M171.46 1339.32L600.56 910.22M171.46 1357.85L600.56 928.75M171.46 1376.38L600.56 947.28M171.46 940.06L600.56 1369.16M171.46 921.53L600.56 1350.63M171.46 903L600.56 1332.1M171.46 884.47L600.56 1313.57M171.46 865.94L600.56 1295.04M171.46 847.41L600.56 1276.51M171.46 828.88L600.56 1257.98M171.46 810.35L600.56 1239.45M171.46 791.82L600.56 1220.92M171.46 773.29L600.56 1202.39M171.46 754.76L600.56 1183.86M171.46 736.23L600.56 1165.33M171.46 717.7L600.56 1146.8M171.46 699.17L600.56 1128.27M171.46 680.64L600.56 1109.74M171.46 662.11L600.56 1091.21M171.46 643.58L600.56 1072.68M171.46 625.05L600.56 1054.15M171.46 606.52L600.56 1035.62M171.46 587.99L600.56 1017.09M171.46 569.46L600.56 998.56M171.46 550.93L600.56 980.03M171.46 532.4L600.56 961.5M171.46 513.87L600.56 942.97M171.46 495.34L600.56 924.44M171.46 476.81L600.56 905.91M171.46 458.28L600.56 887.38M171.46 439.75L600.56 868.85M171.46 421.22L600.56 850.32M171.46 402.69L600.56 831.79M171.46 384.16L600.56 813.26M171.46 365.63L600.56 794.73M171.46 347.1L600.56 776.2M171.46 328.57L600.56 757.67M171.46 310.04L600.56 739.14M171.46 291.51L600.56 720.61M171.46 272.98L600.56 702.08M171.46 254.45L600.56 683.55M171.46 235.92L600.56 665.02M171.46 217.39L600.56 646.49M171.46 198.86L600.56 627.96M171.46 180.33L600.56 609.43M171.46 161.8L600.56 590.9M171.46 143.27L600.56 572.37M171.46 124.74L600.56 553.84M171.46 106.21L600.56 535.31M171.46 87.68L600.56 516.78M171.46 69.15L600.56 498.25" fill="none" stroke="#1c1a1b" stroke-width="1.5"/></g><g clip-path="url(#cH)"><path d="M171.46 497.03L600.56 67.93M171.46 515.56L600.56 86.46M171.46 534.09L600.56 104.99M171.46 552.62L600.56 123.52M171.46 571.15L600.56 142.05M171.46 589.68L600.56 160.58M171.46 608.21L600.56 179.11M171.46 626.74L600.56 197.64M171.46 645.27L600.56 216.17M171.46 663.8L600.56 234.7M171.46 682.33L600.56 253.23M171.46 700.86L600.56 271.76M171.46 719.39L600.56 290.29M171.46 737.92L600.56 308.82M171.46 756.45L600.56 327.35M171.46 774.98L600.56 345.88M171.46 793.51L600.56 364.41M171.46 812.04L600.56 382.94M171.46 830.57L600.56 401.47M171.46 849.1L600.56 420M171.46 867.63L600.56 438.53M171.46 886.16L600.56 457.06M171.46 904.69L600.56 475.59M171.46 923.22L600.56 494.12M171.46 941.75L600.56 512.65M171.46 960.28L600.56 531.18M171.46 978.81L600.56 549.71M171.46 997.34L600.56 568.24M171.46 1015.87L600.56 586.77M171.46 1034.4L600.56 605.3M171.46 1052.93L600.56 623.83M171.46 1071.46L600.56 642.36M171.46 1089.99L600.56 660.89M171.46 1108.52L600.56 679.42M171.46 1127.05L600.56 697.95M171.46 1145.58L600.56 716.48M171.46 1164.11L600.56 735.01M171.46 1182.64L600.56 753.54M171.46 1201.17L600.56 772.07M171.46 1219.7L600.56 790.6M171.46 1238.23L600.56 809.13M171.46 1256.76L600.56 827.66M171.46 1275.29L600.56 846.19M171.46 1293.82L600.56 864.72M171.46 1312.35L600.56 883.25M171.46 1330.88L600.56 901.78M171.46 1349.41L600.56 920.31M171.46 1367.94L600.56 938.84" fill="none" stroke="#1c1a1b" stroke-width="1.5"/></g><rect x="267.5" y="578" width="73" height="32" fill="#fff"/><rect x="439.2" y="584.3" width="103.18" height="19.7" fill="#fff"/><rect x="467.7" y="688.65" width="103.3" height="19.75" fill="#fff"/><path d="M490.79 514.14 L490.79 566.49 L438.4 566.49 L438.4 618.83 L386.01 618.83 L386.01 671.18 L333.62 671.18 L333.62 749.69 L307.43 775.86 L281.23 775.86 L281.23 802.04 L255.04 828.21 L228.85 828.21 L228.85 932.9 M595.56 566.49 L543.17 566.49 L543.17 618.83 L490.79 618.83 L490.79 671.18 L438.4 671.18 L438.4 723.52 L386.01 723.52 L386.01 775.86 L359.82 775.86 L333.62 802.04 L333.62 828.21 L307.43 828.21 L281.23 854.38 L281.23 880.55 L228.85 880.55 L228.85 932.9 M595.56 723.52 L543.17 723.52 L543.17 775.86 L490.79 775.86 L490.79 828.21 L438.4 828.21 L438.4 880.55 L333.62 880.55 L333.62 932.9" fill="none" stroke="#1c1a1b" stroke-width="1.6" stroke-linejoin="miter"/><path d="M124.07 461.8H595.56V932.9H124.07ZM124.07 514.14H595.56M176.46 461.8V932.9M228.85 461.8V514.14M281.23 461.8V514.14M333.62 461.8V514.14M386.01 461.8V514.14M438.4 461.8V514.14M490.79 461.8V514.14M543.17 461.8V514.14M124.07 566.49H176.46M124.07 618.83H176.46M124.07 671.18H176.46M124.07 723.52H176.46M124.07 775.86H176.46M124.07 828.21H176.46M124.07 880.55H176.46M124.07 461.8L176.46 514.14" fill="none" stroke="#231f20" stroke-width="1.7"/><g fill="#1c1a1b"><text x="181.28" y="496.68" font-family="Liberation Sans" font-size="22.32" textLength="35.56" lengthAdjust="spacingAndGlyphs">140</text><text x="131.08" y="549.18" font-family="Liberation Sans" font-size="22.32" textLength="35.56" lengthAdjust="spacingAndGlyphs">140</text><text x="233.65" y="496.68" font-family="Liberation Sans" font-size="22.32" textLength="35.56" lengthAdjust="spacingAndGlyphs">150</text><text x="131.08" y="601.57" font-family="Liberation Sans" font-size="22.32" textLength="35.56" lengthAdjust="spacingAndGlyphs">150</text><text x="286.02" y="496.68" font-family="Liberation Sans" font-size="22.32" textLength="35.56" lengthAdjust="spacingAndGlyphs">160</text><text x="131.08" y="653.96" font-family="Liberation Sans" font-size="22.32" textLength="35.56" lengthAdjust="spacingAndGlyphs">160</text><text x="338.39" y="496.68" font-family="Liberation Sans" font-size="22.32" textLength="35.56" lengthAdjust="spacingAndGlyphs">170</text><text x="131.08" y="706.35" font-family="Liberation Sans" font-size="22.32" textLength="35.56" lengthAdjust="spacingAndGlyphs">170</text><text x="390.76" y="496.68" font-family="Liberation Sans" font-size="22.32" textLength="35.56" lengthAdjust="spacingAndGlyphs">180</text><text x="131.08" y="758.74" font-family="Liberation Sans" font-size="22.32" textLength="35.56" lengthAdjust="spacingAndGlyphs">180</text><text x="443.13" y="496.68" font-family="Liberation Sans" font-size="22.32" textLength="35.56" lengthAdjust="spacingAndGlyphs">190</text><text x="131.08" y="811.13" font-family="Liberation Sans" font-size="22.32" textLength="35.56" lengthAdjust="spacingAndGlyphs">190</text><text x="496.25" y="496.68" font-family="Liberation Sans" font-size="22.32" textLength="35.56" lengthAdjust="spacingAndGlyphs">200</text><text x="132.13" y="863.52" font-family="Liberation Sans" font-size="22.32" textLength="35.56" lengthAdjust="spacingAndGlyphs">200</text><text x="548.62" y="496.68" font-family="Liberation Sans" font-size="22.32" textLength="35.56" lengthAdjust="spacingAndGlyphs">210</text><text x="132.13" y="915.91" font-family="Liberation Sans" font-size="22.32" textLength="35.56" lengthAdjust="spacingAndGlyphs">210</text><text x="129.81" y="505.73" font-family="Liberation Sans" font-size="29.7" textLength="18.69" lengthAdjust="spacingAndGlyphs">A</text><text x="154.96" y="488.64" font-family="Liberation Sans" font-size="29.71" textLength="19.55" lengthAdjust="spacingAndGlyphs">B</text><text x="275.55" y="601.78" font-family="Liberation Sans" font-size="22.88" textLength="56.74" lengthAdjust="spacingAndGlyphs">&gt;120°</text><text x="443.94" y="601.39" font-family="Liberation Sans" font-size="21.89" textLength="103.02" lengthAdjust="spacingAndGlyphs">110°~120°</text><text x="468.73" y="706.08" font-family="Liberation Sans" font-size="22.88" textLength="103.33" lengthAdjust="spacingAndGlyphs">100°~110°</text><text x="477.76" y="883.98" font-family="Liberation Sans" font-size="22.46" textLength="92.37" lengthAdjust="spacingAndGlyphs">90°~100°</text></g><circle cx="621.1" cy="487.3" r="3.8" fill="#e41b1b"/></svg>
</body></html>
